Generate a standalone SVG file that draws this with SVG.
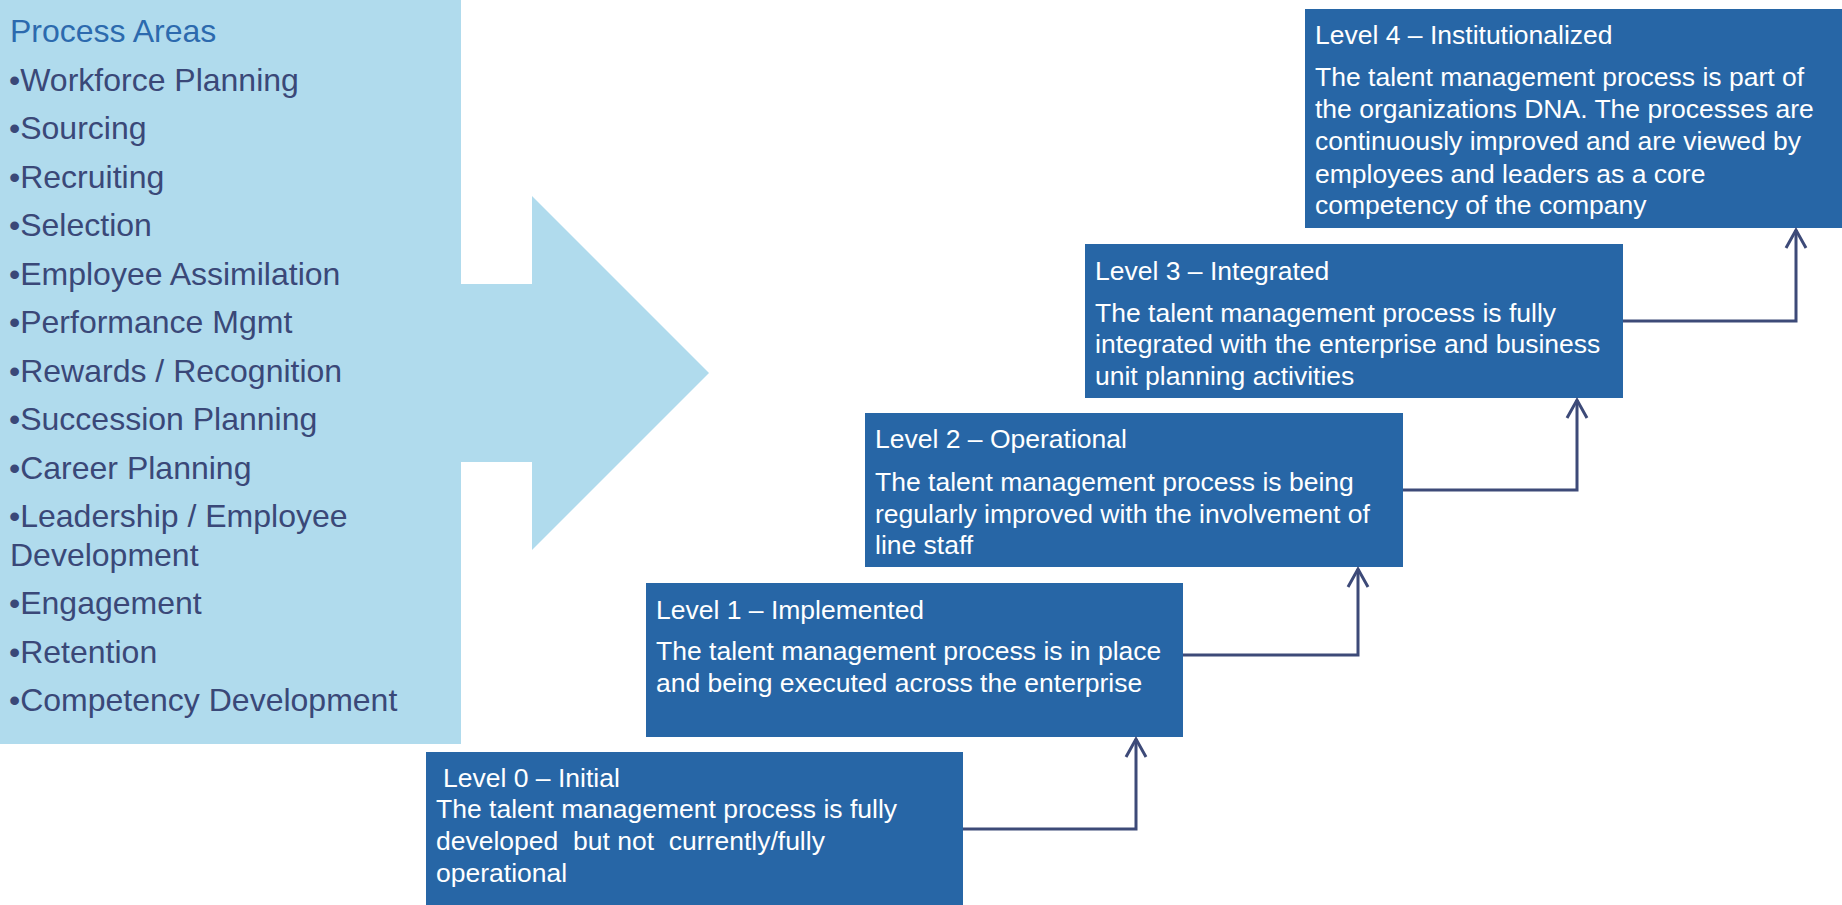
<svg xmlns="http://www.w3.org/2000/svg" width="1842" height="905" viewBox="0 0 1842 905">
<style>
.pa{font-family:"Liberation Sans",Arial,sans-serif;font-size:32px;fill:#3a4878}
.pah{fill:#2c6aae}
.box{fill:#2766a6}
.t{font-family:"Liberation Sans",Arial,sans-serif;font-size:26.5px;fill:#ffffff}
.con{fill:none;stroke:#3d4a78;stroke-width:3}
</style>
<defs>
<marker id="ah" markerWidth="24" markerHeight="24" refX="20" refY="12" orient="auto" markerUnits="userSpaceOnUse">
<path d="M2,2 L20,12 L2,22" fill="none" stroke="#3d4a78" stroke-width="3"/>
</marker>
</defs>
<g id="process-areas">
<polygon points="0,0 461,0 461,284 532,284 532,196 709,373 532,550 532,462 461,462 461,744 0,744" fill="#b0dbed"/>
<text class="pa pah" x="10" y="42">Process Areas</text>
<text class="pa" x="9" y="90.5">•Workforce Planning</text>
<text class="pa" x="9" y="139">•Sourcing</text>
<text class="pa" x="9" y="187.5">•Recruiting</text>
<text class="pa" x="9" y="236">•Selection</text>
<text class="pa" x="9" y="284.5">•Employee Assimilation</text>
<text class="pa" x="9" y="333">•Performance Mgmt</text>
<text class="pa" x="9" y="381.5">•Rewards / Recognition</text>
<text class="pa" x="9" y="430">•Succession Planning</text>
<text class="pa" x="9" y="478.5">•Career Planning</text>
<text class="pa" x="9" y="527">•Leadership / Employee</text>
<text class="pa" x="10" y="565.5">Development</text>
<text class="pa" x="9" y="614">•Engagement</text>
<text class="pa" x="9" y="662.5">•Retention</text>
<text class="pa" x="9" y="711">•Competency Development</text>
</g>
<g id="level0">
<rect class="box" x="426" y="752" width="537" height="153"/>
<text class="t" x="443" y="787">Level 0 – Initial</text>
<text class="t" x="436" y="818">The talent management process is fully</text>
<text class="t" x="436" y="850" xml:space="preserve">developed  but not  currently/fully</text>
<text class="t" x="436" y="882">operational</text>
</g>
<g id="level1">
<rect class="box" x="646" y="583" width="537" height="154"/>
<text class="t" x="656" y="619">Level 1 – Implemented</text>
<text class="t" x="656" y="660">The talent management process is in place</text>
<text class="t" x="656" y="692">and being executed across the enterprise</text>
</g>
<g id="level2">
<rect class="box" x="865" y="413" width="538" height="154"/>
<text class="t" x="875" y="448">Level 2 – Operational</text>
<text class="t" x="875" y="491">The talent management process is being</text>
<text class="t" x="875" y="523">regularly improved with the involvement of</text>
<text class="t" x="875" y="554">line staff</text>
</g>
<g id="level3">
<rect class="box" x="1085" y="244" width="538" height="154"/>
<text class="t" x="1095" y="280">Level 3 – Integrated</text>
<text class="t" x="1095" y="322">The talent management process is fully</text>
<text class="t" x="1095" y="353">integrated with the enterprise and business</text>
<text class="t" x="1095" y="385">unit planning activities</text>
</g>
<g id="level4">
<rect class="box" x="1305" y="9" width="537" height="219"/>
<text class="t" x="1315" y="44">Level 4 – Institutionalized</text>
<text class="t" x="1315" y="86">The talent management process is part of</text>
<text class="t" x="1315" y="118">the organizations DNA. The processes are</text>
<text class="t" x="1315" y="150">continuously improved and are viewed by</text>
<text class="t" x="1315" y="183">employees and leaders as a core</text>
<text class="t" x="1315" y="214">competency of the company</text>
</g>
<g id="connectors">
<polyline class="con" points="963,829 1136,829 1136,739" marker-end="url(#ah)"/>
<polyline class="con" points="1183,655 1358,655 1358,569" marker-end="url(#ah)"/>
<polyline class="con" points="1403,490 1577,490 1577,400" marker-end="url(#ah)"/>
<polyline class="con" points="1623,321 1796,321 1796,230" marker-end="url(#ah)"/>
</g>
</svg>
